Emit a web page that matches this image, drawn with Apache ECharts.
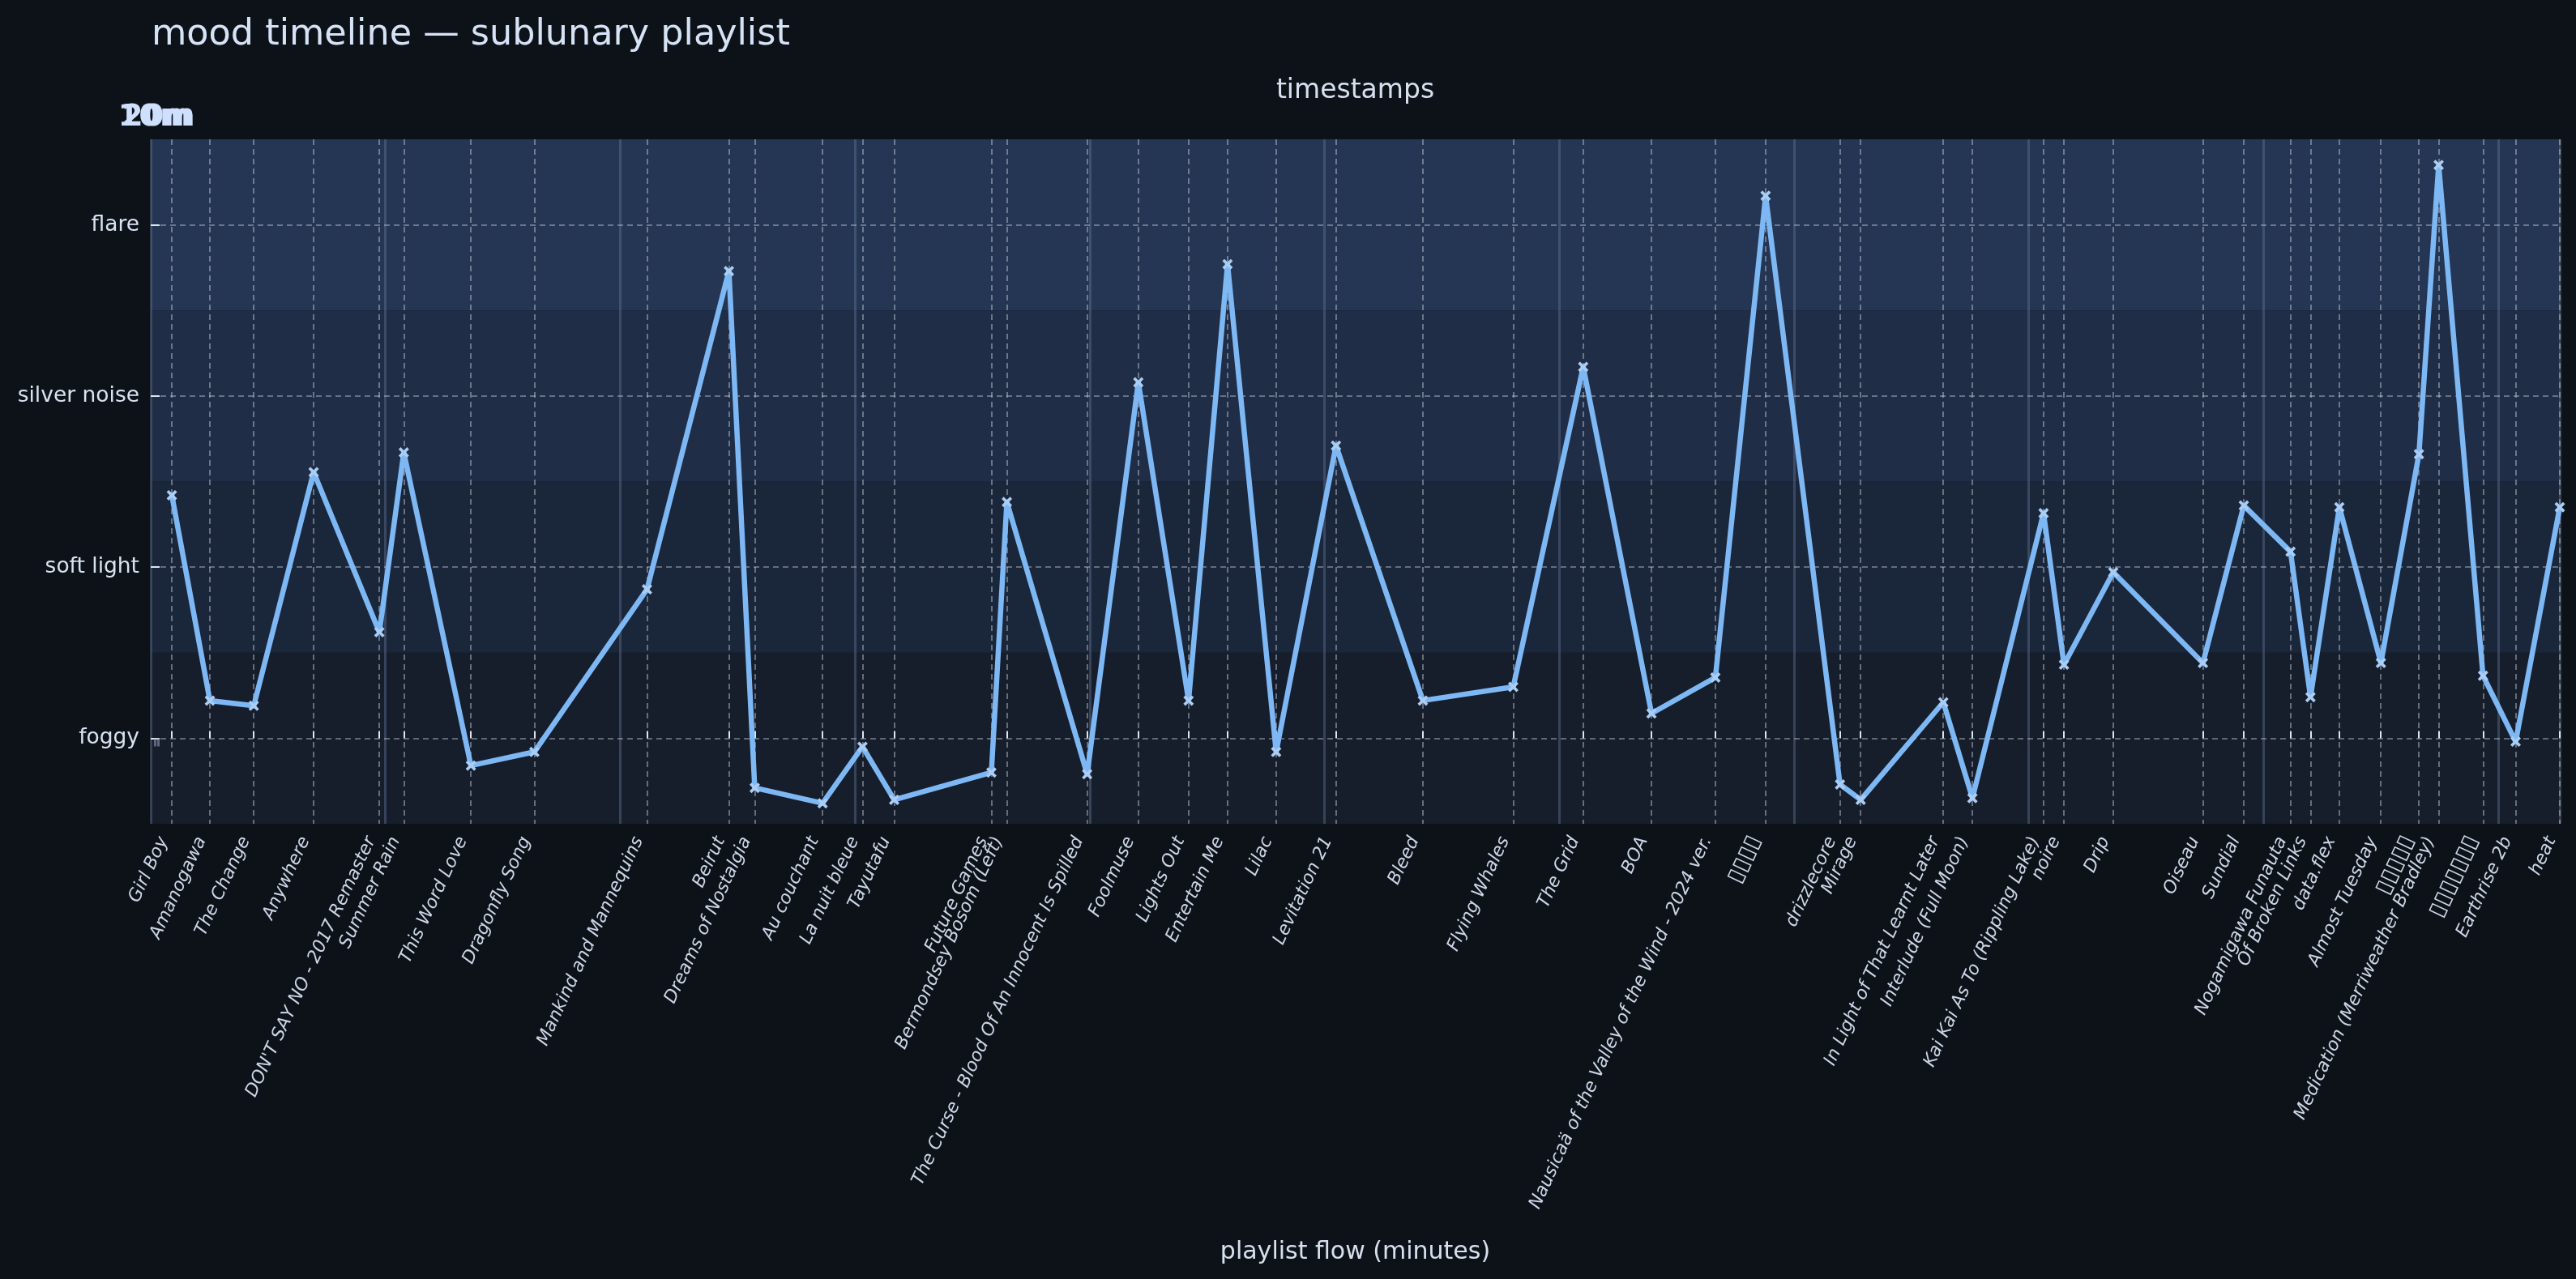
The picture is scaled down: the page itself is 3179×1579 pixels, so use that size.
<!DOCTYPE html>
<html>
<head>
<meta charset="utf-8">
<script src="https://cdn.jsdelivr.net/npm/echarts@6/dist/echarts.min.js"></script>
<style>
html,body{margin:0;padding:0;background:#0d1219;}
#chart{width:3179px;height:1579px;}
</style>
</head>
<body>
<div id="chart"></div>
<script>
const songTitles = [
  "Girl Boy","Amanogawa","The Change","Anywhere","DON'T SAY NO - 2017 Remaster","Summer Rain",
  "This Word Love","Dragonfly Song","Mankind and Mannequins","Beirut","Dreams of Nostalgia",
  "Au couchant","La nuit bleue","Tayutafu","Future Games","Bermondsey Bosom (Left)",
  "The Curse - Blood Of An Innocent Is Spilled","Foolmuse","Lights Out","Entertain Me","Lilac",
  "Levitation 21","Bleed","Flying Whales","The Grid","BOA",
  "Nausicaä of the Valley of the Wind - 2024 ver.","▯▯▯▯","drizzlecore","Mirage",
  "In Light of That Learnt Later","Interlude (Full Moon)","Kai Kai As To (Rippling Lake)","noire",
  "Drip","Oiseau","Sundial","Nogamigawa Funauta","Of Broken Links","data.flex","Almost Tuesday",
  "▯▯▯▯▯","Medication (Merriweather Bradley)","▯▯▯▯▯▯▯","Earthrise 2b","heat"
];
const songMinutes = [
  0.90, 2.52, 4.39, 6.94, 9.74, 10.78, 13.64, 16.34, 21.14, 24.63, 25.73,
  28.62, 30.32, 31.67, 35.81, 36.47, 39.89, 42.07, 44.21, 45.87, 47.94,
  50.49, 54.19, 58.04, 61.02, 63.93, 66.65, 68.79, 71.96, 72.84,
  76.36, 77.60, 80.63, 81.50, 83.60, 87.42, 89.16, 91.15, 92.00, 93.23, 95.00,
  96.62, 97.46, 99.35, 100.74, 102.62
];
const moodValues = [
  1.42, 0.22, 0.19, 1.555, 0.62, 1.67, -0.16, -0.08, 0.87, 2.73, -0.29,
  -0.38, -0.05, -0.36, -0.20, 1.38, -0.21, 2.08, 0.22, 2.77, -0.08,
  1.71, 0.22, 0.30, 2.17, 0.145, 0.355, 3.17, -0.27, -0.36,
  0.21, -0.35, 1.315, 0.43, 0.97, 0.44, 1.36, 1.09, 0.24, 1.35, 0.44,
  1.66, 3.35, 0.365, -0.02, 1.35
];
const moodLevels = ["foggy", "soft light", "silver noise", "flare"];
const moodTickValues = [0, 1, 2, 3];
const bandColors = ["#161d2b", "#1a263a", "#1f2d46", "#243653"];
const topTickSeconds = [0, 10, 20, 30];
const topTickLabels = ["0m", "10m", "20m", "30m"];
const sectionMinutes = 10;

const FONT = "DejaVu Sans";
const xMaxMin = Math.max(...songMinutes);
const titleByMinute = {};
songMinutes.forEach((m, i) => { titleByMinute[String(m)] = songTitles[i]; });
const topLabelBySecond = {};
topTickSeconds.forEach((s, i) => { topLabelBySecond[String(s)] = topTickLabels[i]; });

function songLabel(v, i) {
  const t = titleByMinute[String(v)] !== undefined ? titleByMinute[String(v)] : songTitles[i];
  return /^▯+$/.test(t) ? '{tofu|' + t + '}' : t;
}

const chart = echarts.init(document.getElementById('chart'), null, {renderer: 'canvas'});
const gridLine = {show: true, lineStyle: {color: 'rgba(205,212,225,0.55)', width: 1.6, type: [7, 5]}};

chart.setOption({
  backgroundColor: '#0d1219',
  animation: false,
  title: {
    text: 'mood timeline — sublunary playlist',
    left: 182, top: 16,
    textStyle: {color: '#d6e3f7', fontSize: 44.5, fontWeight: 'normal', fontFamily: FONT}
  },
  grid: {left: 186, right: 20, top: 172, bottom: 562, containLabel: false},
  xAxis: [
    {
      type: 'value', position: 'bottom', min: 0, max: 'dataMax', z: 1,
      name: 'playlist flow (minutes)', nameLocation: 'middle', nameGap: 514,
      nameMoveOverlap: false,
      nameTextStyle: {color: '#d6e0ee', fontSize: 30, fontFamily: FONT},
      axisLine: {show: false},
      axisTick: {show: true, inside: true, length: 9, customValues: songMinutes,
        lineStyle: {color: '#dfe6f0', width: 2}},
      axisLabel: {show: true, customValues: songMinutes, rotate: 65, margin: 22,
        verticalAlign: 'bottom',
        color: '#ccd6e6', fontSize: 22, fontStyle: 'italic', fontFamily: FONT,
        rich: {tofu: {fontSize: 28, fontFamily: FONT, color: '#ccd6e6'}},
        formatter: songLabel},
      splitLine: gridLine
    },
    {
      type: 'value', position: 'top', min: 0, max: xMaxMin * 60, z: 1,
      name: 'timestamps', nameLocation: 'middle', nameGap: 43,
      nameMoveOverlap: false,
      nameTextStyle: {color: '#d6e0ee', fontSize: 33, fontFamily: FONT},
      axisLine: {show: false},
      axisTick: {show: true, inside: true, length: 10, customValues: topTickSeconds,
        lineStyle: {color: 'rgba(150,165,195,0.55)', width: 3}},
      axisLabel: {show: true, customValues: topTickSeconds, margin: 8,
        color: '#cfe0ff', fontSize: 37, fontWeight: 'bold', fontFamily: FONT,
        formatter: (v, i) => topLabelBySecond[String(v)] !== undefined ? topLabelBySecond[String(v)] : topTickLabels[i]},
      splitLine: {show: false}
    },
    {
      type: 'value', position: 'bottom', min: 0, max: xMaxMin, interval: sectionMinutes, z: 0,
      axisLine: {show: false}, axisTick: {show: false}, axisLabel: {show: false},
      splitLine: {show: true, lineStyle: {color: 'rgba(95,115,145,0.45)', width: 3, type: 'solid'}}
    }
  ],
  yAxis: [
    {
      type: 'value', min: -0.5, max: 3.5, z: 1,
      axisLine: {show: false},
      axisTick: {show: true, inside: true, length: 11, customValues: moodTickValues,
        lineStyle: {color: '#dfe6f0', width: 2}},
      axisLabel: {show: true, customValues: moodTickValues, margin: 14,
        color: '#d8e2f0', fontSize: 26.5, fontFamily: FONT,
        formatter: (v) => moodLevels[Math.round(v)]},
      splitLine: gridLine
    },
    {
      type: 'value', min: -0.5, max: 3.5, interval: 1, z: 0,
      axisLine: {show: false}, axisTick: {show: false}, axisLabel: {show: false},
      splitLine: {show: false},
      splitArea: {show: true, areaStyle: {color: bandColors}}
    }
  ],
  series: [
    {
      type: 'line', xAxisIndex: 0, yAxisIndex: 0, z: 3,
      data: songMinutes.map((m, i) => [m, moodValues[i]]),
      lineStyle: {color: '#7db8f4', width: 6.5},
      symbol: 'path://M2,0 L5,3 L8,0 L10,2 L7,5 L10,8 L8,10 L5,7 L2,10 L0,8 L3,5 L0,2 Z',
      symbolSize: 13,
      itemStyle: {color: '#aacdf4'},
      clip: false
    }
  ]
});
</script>
</body>
</html>
